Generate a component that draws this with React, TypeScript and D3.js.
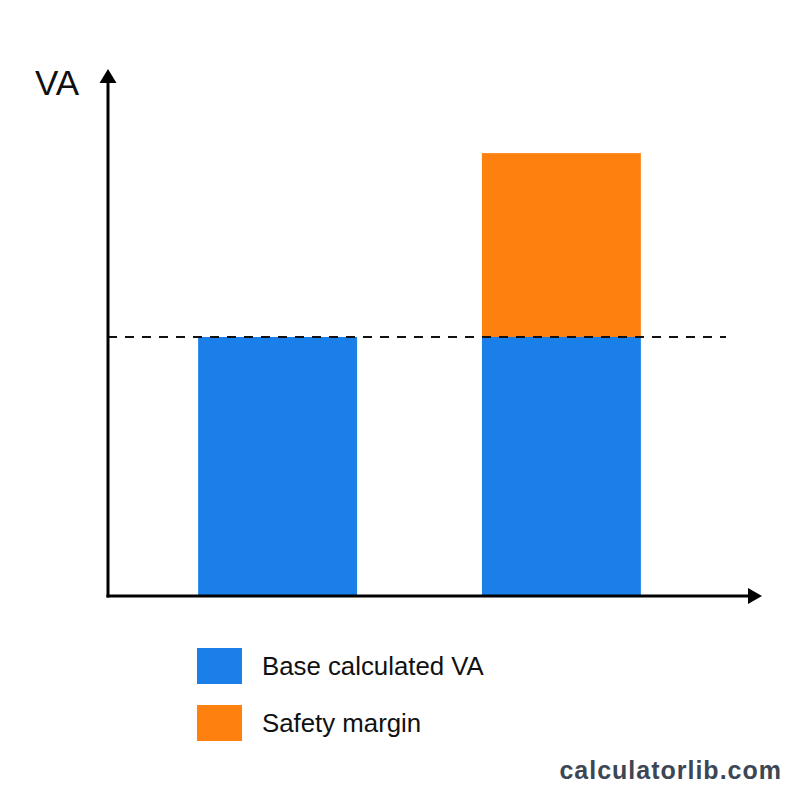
import { useMemo } from "react";
import * as d3 from "d3";

const categories = ["Without margin", "With margin"];
const baseValues = [100, 100];
const marginValues = [0, 71];
const yMaxValue = 200;

const legendItems = ["Base calculated VA", "Safety margin"];
const colors = ["#1a7fe9", "#fe810f"];

const W = 800;
const H = 800;
const axisX = 108;
const axisY = 596;

export default function App() {
  const xScale = useMemo(
    () =>
      d3
        .scaleBand<string>()
        .domain(categories)
        .range([113, 726])
        .paddingInner(0.44)
        .paddingOuter(0.3),
    [],
  );

  const yScale = useMemo(
    () => d3.scaleLinear().domain([0, yMaxValue]).range([axisY, 78]),
    [],
  );

  const stacked = useMemo(() => {
    const rows = categories.map((c, i) => ({
      cat: c,
      base: baseValues[i],
      margin: marginValues[i],
    }));
    return d3.stack<{ cat: string; base: number; margin: number }>().keys(["base", "margin"])(rows);
  }, []);

  const refY = yScale(baseValues[0]);
  const font = "Arial, 'Liberation Sans', Helvetica, sans-serif";

  return (
    <svg
      width={W}
      height={H}
      style={{ position: "absolute", left: 0, top: 0, background: "#fff" }}
    >
      <rect width={W} height={H} fill="#fff" />

      {stacked.map((layer, li) =>
        layer.map((d) => {
          const h = yScale(d[0]) - yScale(d[1]);
          if (h <= 0) return null;
          return (
            <rect
              key={layer.key + d.data.cat}
              x={xScale(d.data.cat)}
              y={yScale(d[1])}
              width={xScale.bandwidth()}
              height={h}
              fill={colors[li]}
            />
          );
        }),
      )}

      {/* reference line at base value */}
      <line
        x1={axisX}
        x2={726}
        y1={refY}
        y2={refY}
        stroke="#111"
        strokeWidth={2.2}
        strokeDasharray="9,8"
      />

      {/* axes */}
      <line x1={axisX} x2={axisX} y1={axisY + 1.5} y2={82} stroke="#000" strokeWidth={3} />
      <path d={`M${axisX},69 L${axisX - 8.5},83 L${axisX + 8.5},83 Z`} fill="#000" />
      <line x1={axisX - 1.5} x2={749} y1={axisY} y2={axisY} stroke="#000" strokeWidth={3} />
      <path d={`M762,${axisY} L748,${axisY - 8} L748,${axisY + 8} Z`} fill="#000" />

      <text x={35} y={95} fontFamily={font} fontSize={35} fill="#111">
        VA
      </text>

      {/* legend */}
      {legendItems.map((label, i) => (
        <g key={label} transform={`translate(197, ${648 + i * 57})`}>
          <rect width={45} height={36} fill={colors[i]} />
          <text x={65} y={27} fontFamily={font} fontSize={25.8} fill="#111">
            {label}
          </text>
        </g>
      ))}

      <text
        x={782}
        y={779}
        textAnchor="end"
        fontFamily={font}
        fontSize={25}
        fontWeight="bold"
        fill="#3d4654"
        letterSpacing={1}
      >
        calculatorlib.com
      </text>
    </svg>
  );
}
